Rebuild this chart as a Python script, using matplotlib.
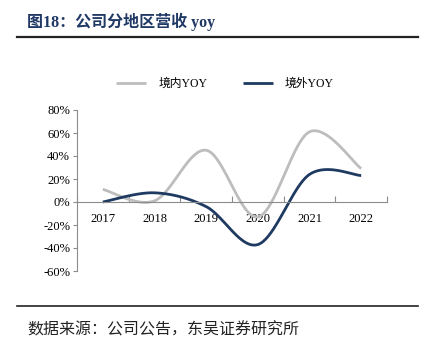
import numpy as np
import matplotlib.pyplot as plt

plt.rcParams['font.family'] = ['Liberation Serif', 'Noto Sans CJK SC']

# Data
years = ['2017', '2018', '2019', '2020', '2021', '2022']
domestic_yoy = [11, 1, 45, -13, 61, 29]
overseas_yoy = [0, 8, -4, -37, 24, 23]
yticks = [-60, -40, -20, 0, 20, 40, 60, 80]


def smooth(y, n=40):
    # Excel-like smoothed line: cubic Bezier with tangents from neighbours
    y = np.asarray(y, dtype=float)
    x = np.arange(len(y), dtype=float)
    xs, ys = [], []
    for i in range(len(y) - 1):
        i0, i3 = max(i - 1, 0), min(i + 2, len(y) - 1)
        p0 = np.array([x[i], y[i]])
        p3 = np.array([x[i + 1], y[i + 1]])
        c1 = p0 + (p3 - np.array([x[i0], y[i0]])) / 6
        c2 = p3 - (np.array([x[i3], y[i3]]) - p0) / 6
        t = np.linspace(0, 1, n)[:, None]
        b = (1 - t) ** 3 * p0 + 3 * (1 - t) ** 2 * t * c1 + 3 * (1 - t) * t ** 2 * c2 + t ** 3 * p3
        xs.extend(b[:, 0])
        ys.extend(b[:, 1])
    return xs, ys


fig = plt.figure(figsize=(4.37, 3.51), dpi=100)
ax = fig.add_axes([77 / 437, 1 - 271 / 351, 310 / 437, 161 / 351])

gx, gy = smooth(domestic_yoy)
nx, ny = smooth(overseas_yoy)
ax.plot(gx, gy, color='#BDBDBD', lw=2.0, label='境内YOY', solid_capstyle='butt')
ax.plot(nx, ny, color='#1F3A60', lw=2.0, label='境外YOY', solid_capstyle='butt')

ax.set_xlim(-0.5, len(years) - 0.5)
ax.set_ylim(-60, 80)

# x axis through 0, ticks at category boundaries
ax.spines['bottom'].set_position(('data', 0))
ax.spines['top'].set_visible(False)
ax.spines['right'].set_visible(False)
for s in ['left', 'bottom']:
    ax.spines[s].set_color('#8C8C8C')
    ax.spines[s].set_linewidth(0.8)
ax.set_xticks(np.arange(-0.5, len(years), 1))
ax.set_xticklabels([])
ax.tick_params(axis='x', which='major', direction='in', length=4, color='#8C8C8C', width=0.8)
ax.set_xticks(np.arange(len(years)), minor=True)
ax.set_xticklabels(years, minor=True, fontsize=9)
ax.tick_params(axis='x', which='minor', length=0, pad=8)

ax.set_yticks(yticks)
ax.set_yticklabels([f'{v}%' for v in yticks], fontsize=9)
ax.tick_params(axis='y', direction='out', length=3, color='#8C8C8C', width=0.8, pad=2)

ax.legend(loc='lower center', bbox_to_anchor=(0.477, 1.06), ncol=2, frameon=False,
          fontsize=8.5, handlelength=2.6, columnspacing=3.0, handletextpad=1.0)

# title, rules, source
fig.text(27 / 437, 1 - 22 / 351, '图18：公司分地区营收 yoy', fontsize=11.5, fontweight='bold',
         color='#1F3864', va='center', family=['Liberation Serif', 'Noto Sans CJK SC'])
fig.add_artist(plt.Line2D([17 / 437, 418 / 437], [1 - 37 / 351, 1 - 37 / 351], color='#222222', lw=1.6))
fig.add_artist(plt.Line2D([17 / 437, 418 / 437], [1 - 306 / 351, 1 - 306 / 351], color='#222222', lw=1.2))
fig.text(27 / 437, 1 - 330 / 351, '数据来源：公司公告，东吴证券研究所', fontsize=11.5,
         color='#222222', va='center', family=['Noto Sans CJK SC', 'DejaVu Sans'])

fig.savefig('out.png', dpi=100)
